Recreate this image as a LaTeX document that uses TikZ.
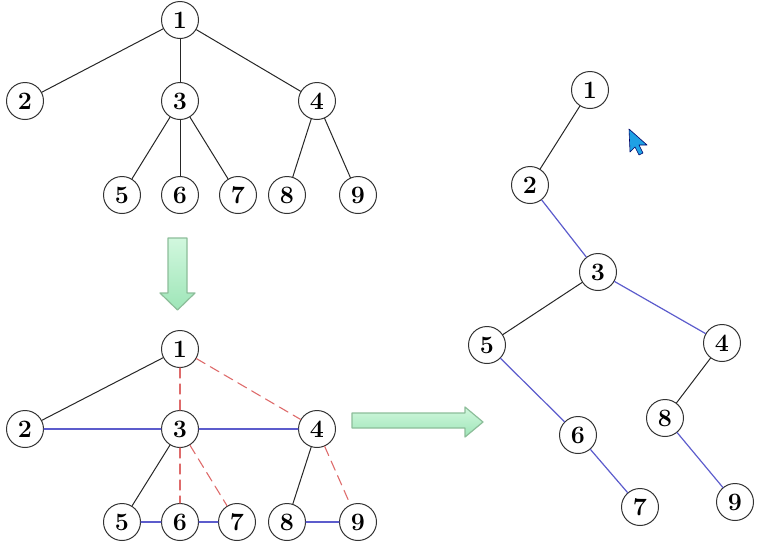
\documentclass[tikz,border=0pt]{standalone}
\usepackage{fontspec}
\setmainfont{Latin Modern Roman}
\usepackage{tikz}
\usetikzlibrary{positioning}
\definecolor{treeblue}{rgb}{0.36,0.36,0.8}
\definecolor{treered}{rgb}{0.87,0.42,0.42}
\definecolor{arrowedge}{rgb}{0.55,0.74,0.6}
\definecolor{arrowtop}{rgb}{0.82,0.97,0.87}
\definecolor{arrowbottom}{rgb}{0.62,0.9,0.72}
\definecolor{cursorblue}{rgb}{0.12,0.63,0.9}
\tikzset{
  vertex/.style={circle,draw=black!80,line width=1pt,fill=white,minimum size=37pt,inner sep=0pt,font=\fontsize{25}{29}\selectfont\bfseries},
  treeedge/.style={line width=1pt,color=black!85},
  threadedge/.style={line width=1.2pt,color=treeblue},
  cutedge/.style={line width=1.1pt,color=treered,dash pattern=on 10pt off 6pt}
}
\begin{document}
\begin{tikzpicture}[line cap=round,line join=round,x=1pt,y=-1pt]
\useasboundingbox (0,0) rectangle (757,547);
% tree at the top
\foreach \n/\x/\y in {1/180/20,2/25/101,3/180/101,4/317/101,5/122/195,6/180/195,7/238/195,8/287/195,9/358/195}
\node[vertex] (a\n) at (\x,\y) {\n};
\foreach \p/\q in {1/2,1/3,1/4,3/5,3/6,3/7,4/8,4/9}
\draw[treeedge] (a\p) -- (a\q);
% same tree, brothers joined
\foreach \n/\x/\y in {1/180/349,2/25/429,3/180/429,4/317/429,5/122/522,6/180/522,7/237/522,8/287/522,9/358/522}
\node[vertex] (b\n) at (\x,\y) {\n};
\foreach \p/\q in {1/2,3/5,4/8}
\draw[treeedge] (b\p) -- (b\q);
\foreach \p/\q in {2/3,3/4,5/6,6/7,8/9}
\draw[threadedge] (b\p) -- (b\q);
\foreach \p/\q in {1/3,1/4,3/6,3/7,4/9}
\draw[cutedge] (b\p) -- (b\q);
% binary tree
\foreach \n/\x/\y in {1/590/90,2/530/185,3/598/272,4/722/343,5/487/345,6/578/435,7/640/507,8/665/418,9/735/502}
\node[vertex] (c\n) at (\x,\y) {\n};
\foreach \p/\q in {1/2,3/5,4/8}
\draw[treeedge] (c\p) -- (c\q);
\foreach \p/\q in {2/3,3/4,5/6,6/7,8/9}
\draw[threadedge] (c\p) -- (c\q);
% green arrows
\shade[top color=arrowtop,bottom color=arrowbottom,draw=arrowedge,line width=1.2pt]
(168,238) -- (187,238) -- (187,293) -- (195,293) -- (177.5,310) -- (160,293) -- (168,293) -- cycle;
\shade[top color=arrowtop,bottom color=arrowbottom,draw=arrowedge,line width=1.2pt]
(352,413) -- (465,413) -- (465,407) -- (483,422) -- (465,437) -- (465,428) -- (352,428) -- cycle;
% mouse pointer
\fill[cursorblue,draw=blue!40!black,line width=0.6pt]
(629,129) -- (630,152) -- (635,147) -- (639,155) -- (643,153) -- (639,145) -- (647,145) -- cycle;
\end{tikzpicture}
\end{document}
